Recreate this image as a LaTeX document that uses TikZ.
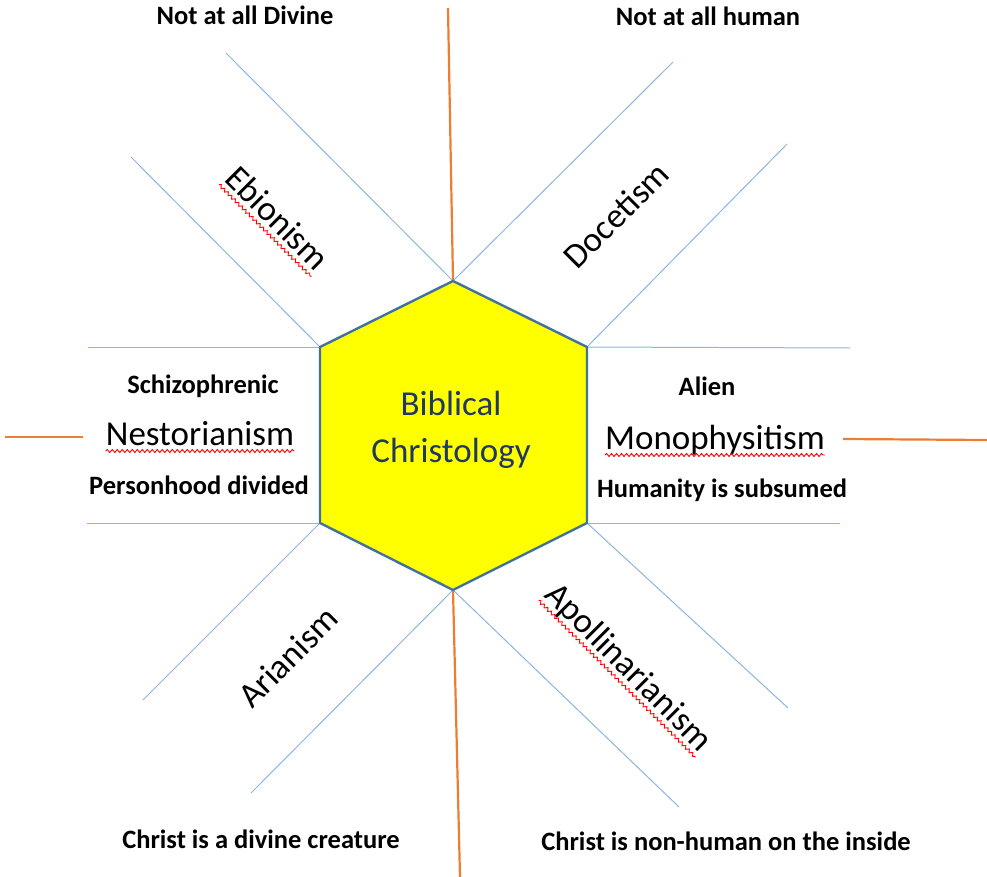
\documentclass[tikz,border=0pt]{standalone}
\usepackage{tikz}
\usepackage{fontspec}
\setmainfont{Carlito}
\usetikzlibrary{decorations.pathmorphing,calc}

\definecolor{spokeblue}{HTML}{8FB4DE}
\definecolor{hexedge}{HTML}{41719C}
\definecolor{axisorange}{HTML}{ED7D31}
\definecolor{hexnavy}{HTML}{1F3864}
\definecolor{hexfill}{HTML}{FFFF00}

\begin{document}
\begin{tikzpicture}[x=1pt, y=-1pt,
    spoke/.style={draw=spokeblue, line width=1pt},
    axis/.style={draw=axisorange, line width=2.2pt},
    heresy/.style={inner sep=0pt, font=\fontsize{35}{42}\selectfont},
    note/.style={inner sep=0pt, anchor=base, font=\fontsize{26.5}{31}\selectfont\bfseries},
    squiggle/.style={draw=red, line width=0.9pt, decorate,
        decoration={snake, amplitude=1.5pt, segment length=5pt}}]
    \useasboundingbox (0,0) rectangle (987,877);

    % hexagon corners
    \coordinate (T) at (453, 281);
    \coordinate (UR) at (587, 347);
    \coordinate (LR) at (587, 523);
    \coordinate (B) at (453, 590);
    \coordinate (LL) at (320, 523);
    \coordinate (UL) at (320, 347);

    % free ends of the spokes
    \coordinate (ULh) at (88, 347);
    \coordinate (ULd) at (131, 157);
    \coordinate (Td1) at (226, 53);
    \coordinate (Td2) at (673, 62);
    \coordinate (URd) at (787, 144);
    \coordinate (URh) at (850, 348);
    \coordinate (LRh) at (840, 523);
    \coordinate (LRd) at (788, 708);
    \coordinate (Bd1) at (679, 807);
    \coordinate (Bd2) at (251, 793);
    \coordinate (LLh) at (87, 523);
    \coordinate (LLd) at (143, 700);

    % orange axis ends
    \coordinate (Atop) at (448, 8);
    \coordinate (Abot) at (460, 877);
    \coordinate (Al1) at (5, 437);
    \coordinate (Al2) at (83, 437);
    \coordinate (Ar1) at (843, 439);
    \coordinate (Ar2) at (987, 440);

    \draw[spoke] (UL) -- (ULh);
    \draw[spoke] (UL) -- (ULd);
    \draw[spoke] (T) -- (Td1);
    \draw[spoke] (T) -- (Td2);
    \draw[spoke] (UR) -- (URd);
    \draw[spoke] (UR) -- (URh);
    \draw[spoke] (LR) -- (LRh);
    \draw[spoke] (LR) -- (LRd);
    \draw[spoke] (B) -- (Bd1);
    \draw[spoke] (B) -- (Bd2);
    \draw[spoke] (LL) -- (LLh);
    \draw[spoke] (LL) -- (LLd);

    \draw[axis] (T) -- (Atop);
    \draw[axis] (B) -- (Abot);
    \draw[axis] (Al1) -- (Al2);
    \draw[axis] (Ar1) -- (Ar2);

    \draw[draw=hexedge, fill=hexfill, line width=2.4pt, line join=round]
        (T) -- (UR) -- (LR) -- (B) -- (LL) -- (UL) -- cycle;
    \node[align=center, text=hexnavy, font=\fontsize{35}{47}\selectfont] (center) at (451, 430) {Biblical\\Christology};

    % rotated names
    \node[heresy, rotate=-45] (ebion) at (278, 218) {Ebionism};
    \node[heresy, rotate=45] (docet) at (616, 215) {Docetism};
    \node[heresy, rotate=45] (arian) at (288, 657) {Arianism};
    \node[heresy, rotate=-45] (apoll) at (628, 668) {Apollinarianism};

    % side names
    \node[heresy, anchor=base] (nestor) at (200, 445) {Nestorianism};
    \node[heresy, anchor=base] (mono) at (715, 449) {Monophysitism};

    \node[note] (schizo) at (203, 393) {Schizophrenic};
    \node[note] (person) at (199, 494) {Personhood divided};
    \node[note] (alien) at (707, 395) {Alien};
    \node[note] (subsumed) at (722, 497) {Humanity is subsumed};
    \node[note] (notdivine) at (245, 25) {Not at all Divine};
    \node[note] (nothuman) at (708, 26) {Not at all human};
    \node[note] (creature) at (261, 848) {Christ is a divine creature};
    \node[note] (inside) at (726, 850) {Christ is non-human on the inside};

    % spell check marks
    \draw[squiggle] ($(nestor.base west)!6pt!-90:(nestor.base east)$) -- ($(nestor.base east)!6pt!90:(nestor.base west)$);
    \draw[squiggle] ($(mono.base west)!6pt!-90:(mono.base east)$) -- ($(mono.base east)!6pt!90:(mono.base west)$);
    \draw[squiggle] ($(ebion.base west)!6pt!-90:(ebion.base east)$) -- ($(ebion.base east)!6pt!90:(ebion.base west)$);
    \draw[squiggle] ($(apoll.base west)!6pt!-90:(apoll.base east)$) -- ($(apoll.base east)!6pt!90:(apoll.base west)$);
\end{tikzpicture}
\end{document}
